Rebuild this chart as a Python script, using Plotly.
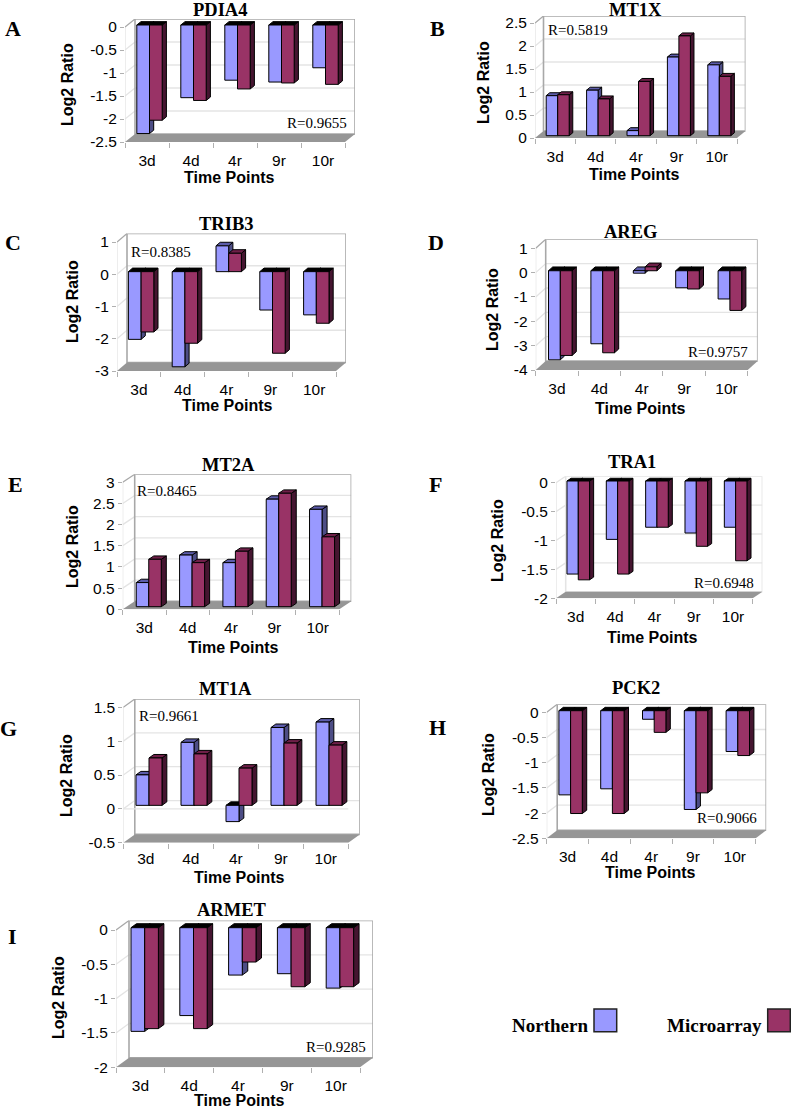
import plotly.graph_objects as go

CATEGORIES = ["3d", "4d", "4r", "9r", "10r"]

PDIA4_NORTHERN = [-2.36, -1.58, -1.20, -1.24, -0.93]
PDIA4_MICROARRAY = [-2.07, -1.64, -1.39, -1.26, -1.29]
MT1X_NORTHERN = [0.87, 0.99, 0.11, 1.71, 1.54]
MT1X_MICROARRAY = [0.89, 0.80, 1.18, 2.17, 1.29]
TRIB3_NORTHERN = [-2.10, -2.95, 0.80, -1.19, -1.34]
TRIB3_MICROARRAY = [-1.87, -2.22, 0.57, -2.53, -1.60]
AREG_NORTHERN = [-3.66, -3.00, -0.10, -0.70, -1.16]
AREG_MICROARRAY = [-3.48, -3.37, 0.16, -0.75, -1.63]
MT2A_NORTHERN = [0.57, 1.22, 1.04, 2.54, 2.30]
MT2A_MICROARRAY = [1.12, 1.04, 1.31, 2.68, 1.65]
TRA1_NORTHERN = [-1.61, -1.01, -0.80, -0.90, -0.80]
TRA1_MICROARRAY = [-1.71, -1.61, -0.80, -1.13, -1.38]
MT1A_NORTHERN = [0.45, 0.93, -0.24, 1.15, 1.23]
MT1A_MICROARRAY = [0.70, 0.76, 0.55, 0.92, 0.89]
PCK2_NORTHERN = [-1.67, -1.55, -0.17, -1.96, -0.81]
PCK2_MICROARRAY = [-2.04, -2.04, -0.43, -1.63, -0.89]
ARMET_NORTHERN = [-1.51, -1.28, -0.69, -0.67, -0.88]
ARMET_MICROARRAY = [-1.47, -1.47, -0.50, -0.86, -0.86]

W, H = 791, 1110
BLUE, BLUE_SIDE, BLUE_TOP = "#9999ff", "#4d4d85", "#5c5cab"
MAROON, MAROON_SIDE, MAROON_TOP = "#993366", "#451530", "#6e1f48"
GRAY_EDGE, GRID, FLOOR, TICK = "#a8a8a8", "#e4e4e4", "#969696", "#b0b0b0"
SANS, SERIF = "Liberation Sans", "Liberation Serif"

PANELS = [
    dict(letter="A", name="PDIA4", n=PDIA4_NORTHERN, m=PDIA4_MICROARRAY, ymin=-2.5, ymax=0, step=0.5,
         L=125, R=345, T=27, B=142, dx=10, dy=8, ox=2.5, oy=2, w=12.7, r="R=0.9655", rp=(316.7, 123),
         tp=(220, 10), lp=(13, 29), yp=(67, 85), xp=(229, 177)),
    dict(letter="B", name="MT1X", n=MT1X_NORTHERN, m=MT1X_MICROARRAY, ymin=0, ymax=2.5, step=0.5,
         L=535, R=737, T=23, B=138, dx=8.5, dy=7, ox=2.5, oy=2.3, w=11.5, r="R=0.5819", rp=(577.7, 30),
         tp=(635, 10), lp=(437, 29), yp=(483, 82), xp=(634, 175)),
    dict(letter="C", name="TRIB3", n=TRIB3_NORTHERN, m=TRIB3_MICROARRAY, ymin=-3, ymax=1, step=1,
         L=117, R=336, T=242, B=371, dx=10, dy=8.5, ox=2.2, oy=2.6, w=12.7, r="R=0.8385", rp=(161, 251.7),
         tp=(226.7, 224), lp=(12.7, 243), yp=(72, 302), xp=(227, 405)),
    dict(letter="D", name="AREG", n=AREG_NORTHERN, m=AREG_MICROARRAY, ymin=-4, ymax=1, step=1,
         L=535.7, R=747.7, T=248.3, B=370, dx=10, dy=9, ox=3.4, oy=1.9, w=11.8, r="R=0.9757", rp=(718, 351.7),
         tp=(630, 232), lp=(436, 243), yp=(492, 309), xp=(640, 408)),
    dict(letter="E", name="MT2A", n=MT2A_NORTHERN, m=MT2A_MICROARRAY, ymin=0, ymax=3, step=0.5,
         L=122.7, R=339.3, T=482.3, B=609.3, dx=12, dy=8, ox=4.4, oy=2.6, w=12.5, r="R=0.8465", rp=(166.7, 490.7),
         tp=(228, 465), lp=(15, 484), yp=(72, 547), xp=(233, 647)),
    dict(letter="F", name="TRA1", n=TRA1_NORTHERN, m=TRA1_MICROARRAY, ymin=-2, ymax=0, step=0.5,
         L=556, R=752.7, T=482.7, B=598.3, dx=9.7, dy=6.5, ox=2.6, oy=1.7, w=11.3, r="R=0.6948", rp=(724, 583),
         tp=(631.7, 461.7), lp=(435, 484), yp=(497, 541), xp=(652, 637), edge=GRID),
    dict(letter="G", name="MT1A", n=MT1A_NORTHERN, m=MT1A_MICROARRAY, ymin=-0.5, ymax=1.5, step=0.5,
         L=123.3, R=348.3, T=707.3, B=842.7, dx=11.5, dy=8.3, ox=3.2, oy=3.5, w=13, r="R=0.9661", rp=(169, 716),
         tp=(225, 689), lp=(8, 728), yp=(66, 776), xp=(239, 877), zero=True, standoff=5),
    dict(letter="H", name="PCK2", n=PCK2_NORTHERN, m=PCK2_MICROARRAY, ymin=-2.5, ymax=0, step=0.5,
         L=546.7, R=755.7, T=712.3, B=838.3, dx=10.5, dy=8, ox=3, oy=1.6, w=11.7, r="R=0.9066", rp=(726.7, 818),
         tp=(636, 688), lp=(437, 727), yp=(488, 775), xp=(650, 872)),
    dict(letter="I", name="ARMET", n=ARMET_NORTHERN, m=ARMET_MICROARRAY, ymin=-2, ymax=0, step=0.5,
         L=116, R=360, T=930, B=1067.3, dx=13, dy=9.5, ox=4.3, oy=2.3, w=13.7, r="R=0.9285", rp=(336, 1046.7),
         tp=(232, 910), lp=(13, 936), yp=(58, 998), xp=(239, 1100.5)),
]

fig = go.Figure()
shapes, annotations = [], []


def text(s, p, size, family, bold=False, angle=0):
    annotations.append(dict(
        text=f"<b>{s}</b>" if bold else s, x=p[0] / W, y=1 - p[1] / H, xref="paper", yref="paper",
        xanchor="center", yanchor="middle", showarrow=False, textangle=angle,
        font=dict(size=size, family=family, color="black")))


for idx, p in enumerate(PANELS, start=1):
    ax = "" if idx == 1 else str(idx)
    xref, yref = f"x{ax}", f"y{ax}"
    L, R, T, B, dx, dy = p["L"], p["R"], p["T"], p["B"], p["dx"], p["dy"]
    ux = (R - L) / 5                              # pixels per category
    uy = (B - T) / (p["ymax"] - p["ymin"])        # pixels per log2 unit
    ddx, ddy = dx / ux, dy / uy
    x_top = 5 + ddx
    y_top = p["ymax"] + ddy

    nt = round((p["ymax"] - p["ymin"]) / p["step"])
    yticks = [p["ymin"] + k * p["step"] for k in range(nt + 1)]
    ylabels = [f"{v:g}" for v in yticks]

    fig.update_layout(**{
        f"xaxis{ax}": dict(
            domain=[L / W, (R + dx) / W], range=[0, x_top], anchor=yref, showgrid=False, zeroline=False,
            showline=False, tickmode="array", tickvals=[i + 0.5 for i in range(5)], ticktext=CATEGORIES,
            ticks="", ticklen=5, tickcolor="rgba(0,0,0,0)", ticklabelstandoff=p.get("standoff", 7),
            tickfont=dict(size=15.5, family=SANS, color="black"),
            minor=dict(tickmode="array", tickvals=list(range(6)), ticks="outside", ticklen=5,
                       tickcolor=TICK, tickwidth=1, showgrid=False)),
        f"yaxis{ax}": dict(
            domain=[1 - B / H, 1 - (T - dy) / H], range=[p["ymin"], y_top], anchor=xref, showgrid=False,
            zeroline=False, showline=False, tickmode="array", tickvals=yticks, ticktext=ylabels,
            ticks="outside", ticklen=4, tickcolor=TICK, tickwidth=1,
            tickfont=dict(size=15.5, family=SANS, color="black")),
    })

    def poly(pts, fill, line=None, lw=1):
        path = "M " + " L ".join(f"{a},{b}" for a, b in pts) + " Z"
        shapes.append(dict(type="path", path=path, xref=xref, yref=yref, layer="below", fillcolor=fill,
                           line=dict(color=line or "rgba(0,0,0,0)", width=lw if line else 0)))

    def seg(x0, y0, x1, y1, color, lw):
        shapes.append(dict(type="line", x0=x0, y0=y0, x1=x1, y1=y1, xref=xref, yref=yref, layer="below",
                           line=dict(color=color, width=lw)))

    ymin, ymax = p["ymin"], p["ymax"]
    edge = p.get("edge", GRAY_EDGE)
    # Walls and gridlines
    for v in yticks[1:-1]:
        seg(0, v, ddx, v + ddy, GRID, 1.3)
        seg(ddx, v + ddy, x_top, v + ddy, GRID, 1.3)
    seg(0, ymin, 0, ymax, GRID, 1.3)
    seg(0, ymax, ddx, y_top, edge, 1.3)
    poly([(ddx, ymin + ddy), (x_top, ymin + ddy), (x_top, y_top), (ddx, y_top)], "rgba(0,0,0,0)", edge, 1.6)
    poly([(0, ymin), (5, ymin), (x_top, ymin + ddy), (ddx, ymin + ddy)], FLOOR)
    if p.get("zero"):
        seg(0, 0, 5, 0, GRID, 1.3)

    # Depth faces of the bars, behind the front faces
    ox, oy, w = p["ox"] / ux, p["oy"] / uy, p["w"] / ux
    sx, sy = 0.42 * dx / ux, 0.42 * dy / uy
    xs_n = [i + 0.5 + ox - w for i in range(5)]
    xs_m = [i + 0.5 + ox for i in range(5)]
    for xs, vals, side, top in ((xs_n, p["n"], BLUE_SIDE, BLUE_TOP), (xs_m, p["m"], MAROON_SIDE, MAROON_TOP)):
        for x0, v in zip(xs, vals):
            x1 = x0 + w
            b, e = oy, oy + v
            up = max(b, e)
            poly([(x1, b), (x1 + sx, b + sy), (x1 + sx, e + sy), (x1, e)], side, "black", 1)
            poly([(x0, up), (x1, up), (x1 + sx, up + sy), (x0 + sx, up + sy)],
                 "black" if v < -0.12 else top, "black", 1)

    # Front faces
    for xs, vals, color, name in ((xs_n, p["n"], BLUE, "Northern"), (xs_m, p["m"], MAROON, "Microarray")):
        fig.add_trace(go.Bar(
            x=[a + w / 2 for a in xs], y=vals, base=[oy] * 5, width=w, name=name, showlegend=False,
            marker=dict(color=color, line=dict(color="black", width=1)), xaxis=xref, yaxis=yref))

    text(p["name"], p["tp"], 18.5, SERIF, bold=True)
    text(p["letter"], p["lp"], 22, SERIF, bold=True)
    text(p["r"], p["rp"], 15, SERIF)
    text("Log2 Ratio", p["yp"], 16, SANS, bold=True, angle=-90)
    text("Time Points", p["xp"], 16, SANS, bold=True)

# Legend key
for x0, x1, color in ((594, 616.7, BLUE), (767.7, 790.3, MAROON)):
    shapes.append(dict(type="rect", xref="paper", yref="paper", x0=x0 / W, x1=x1 / W,
                       y0=1 - 1031.7 / H, y1=1 - 1009 / H, fillcolor=color,
                       line=dict(color="#222222", width=1.5)))
text("Northern", (549.5, 1025.7), 19, SERIF, bold=True)
text("Microarray", (714, 1025.7), 19, SERIF, bold=True)

fig.update_layout(
    width=W, height=H, autosize=False, margin=dict(l=0, r=0, t=0, b=0, pad=0, autoexpand=False),
    barmode="overlay", plot_bgcolor="white", paper_bgcolor="white", showlegend=False,
    shapes=shapes, annotations=annotations)

fig.write_html("out.html", config=dict(displayModeBar=False),
               post_script="document.body.style.margin='0';document.body.style.overflow='hidden';")
